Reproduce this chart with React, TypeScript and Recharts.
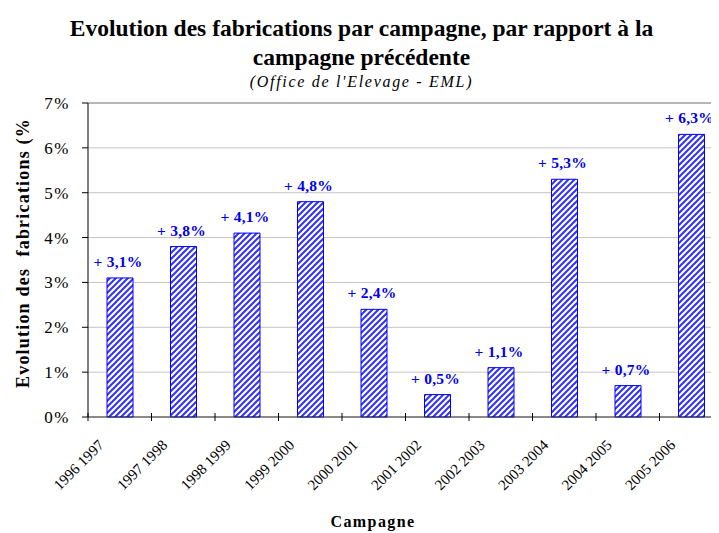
import React from "react";
import { BarChart, Bar, XAxis, YAxis, CartesianGrid, LabelList, ReferenceLine } from "recharts";

const campaigns = ["1996 1997", "1997 1998", "1998 1999", "1999 2000", "2000 2001", "2001 2002", "2002 2003", "2003 2004", "2004 2005", "2005 2006"];
const evolution = [3.1, 3.8, 4.1, 4.8, 2.4, 0.5, 1.1, 5.3, 0.7, 6.3];
const yTicks = [0, 1, 2, 3, 4, 5, 6, 7];

const data = campaigns.map((c, i) => ({ name: c, value: evolution[i] }));

const SERIF = "'Liberation Serif', 'Times New Roman', serif";

const XTick = (props: any) => {
  const { x, y, payload, index, width, visibleTicksCount } = props;
  const hb = width / (visibleTicksCount || campaigns.length) / 2;
  return (
    <g>
      <line x1={x - hb} x2={x - hb} y1={y - 4} y2={y + 4} stroke="#000" />
      {index === (visibleTicksCount || campaigns.length) - 1 ? (
        <line x1={x + hb} x2={x + hb} y1={y - 4} y2={y + 4} stroke="#000" />
      ) : null}
      <g transform={`translate(${x - 15},${y + 29})`}>
        <text transform="rotate(-45)" textAnchor="end" fontFamily={SERIF} fontSize={15} fill="#000">
          {payload.value}
        </text>
      </g>
    </g>
  );
};

const fmt = (v: number) => "+ " + v.toFixed(1).replace(".", ",") + "%";

const BarLabel = (props: any) => {
  const { x, y, width, value } = props;
  return (
    <text x={Number(x) + Number(width) / 2 - 2} y={Number(y) - 11} textAnchor="middle" fontFamily={SERIF} fontWeight="bold" fontSize={15.5} letterSpacing={0.2} fill="#0000ee">
      {fmt(Number(value))}
    </text>
  );
};

export default function App() {
  return (
    <div style={{ position: "relative", width: 720, height: 525, fontFamily: SERIF }}>
      <div style={{ position: "absolute", left: 0, top: 6, width: 707, textAlign: "center", fontWeight: "bold", fontSize: 23.5, lineHeight: "29px", color: "#000" }}>
        Evolution des fabrications par campagne, par rapport à la
        <br />
        campagne précédente
      </div>
      <div style={{ position: "absolute", left: 0, top: 65, width: 707, textAlign: "center", fontStyle: "italic", fontSize: 16, letterSpacing: 1.7, color: "#000" }}>
        (Office de l'Elevage - EML)
      </div>
      <div style={{ position: "absolute", left: 15 - 160, top: 245 - 12, width: 320, height: 24, lineHeight: "24px", textAlign: "center", fontWeight: "bold", fontSize: 18, letterSpacing: 1.2, color: "#000", transform: "rotate(-90deg)", whiteSpace: "pre" }}>
        {"Evolution des  fabrications (%"}
      </div>
      <div style={{ position: "absolute", left: 365 - 80, top: 514 - 12, width: 160, height: 24, lineHeight: "24px", textAlign: "center", fontWeight: "bold", fontSize: 16, letterSpacing: 1.4, color: "#000" }}>
        Campagne
      </div>
      <BarChart width={720} height={525} data={data} margin={{ top: 95, right: 5, left: 0, bottom: 0 }} barCategoryGap={0}>
        <defs>
          <pattern id="hatch" patternUnits="userSpaceOnUse" width="6" height="6">
            <rect width="6" height="6" fill="#ffffff" />
            <path d="M-1.5,1.5 l3,-3 M0,6 l6,-6 M4.5,7.5 l3,-3" stroke="#3030ff" strokeWidth={2} />
          </pattern>
        </defs>
        <CartesianGrid horizontal vertical={false} stroke="#c4c4c4" />
        <ReferenceLine y={7} stroke="#8c8c8c" />
        <XAxis
          dataKey="name"
          height={116}
          interval={0}
          tick={<XTick />}
          tickLine={false}
          tickSize={0}
          tickMargin={0}
          axisLine={{ stroke: "#333" }}
        />
        <YAxis
          width={80}
          domain={[0, 7]}
          ticks={yTicks}
          tickFormatter={(v: number) => `${v}%`}
          tick={{ fontFamily: SERIF, fontSize: 17, fill: "#000", letterSpacing: 1.5 }}
          tickLine={{ stroke: "#000" }}
          tickSize={6}
          tickMargin={12}
          axisLine={{ stroke: "#000" }}
        />
        <Bar dataKey="value" fill="url(#hatch)" stroke="#0000ff" strokeWidth={1} barSize={26} isAnimationActive={false}>
          <LabelList dataKey="value" content={<BarLabel />} />
        </Bar>
      </BarChart>
    </div>
  );
}
